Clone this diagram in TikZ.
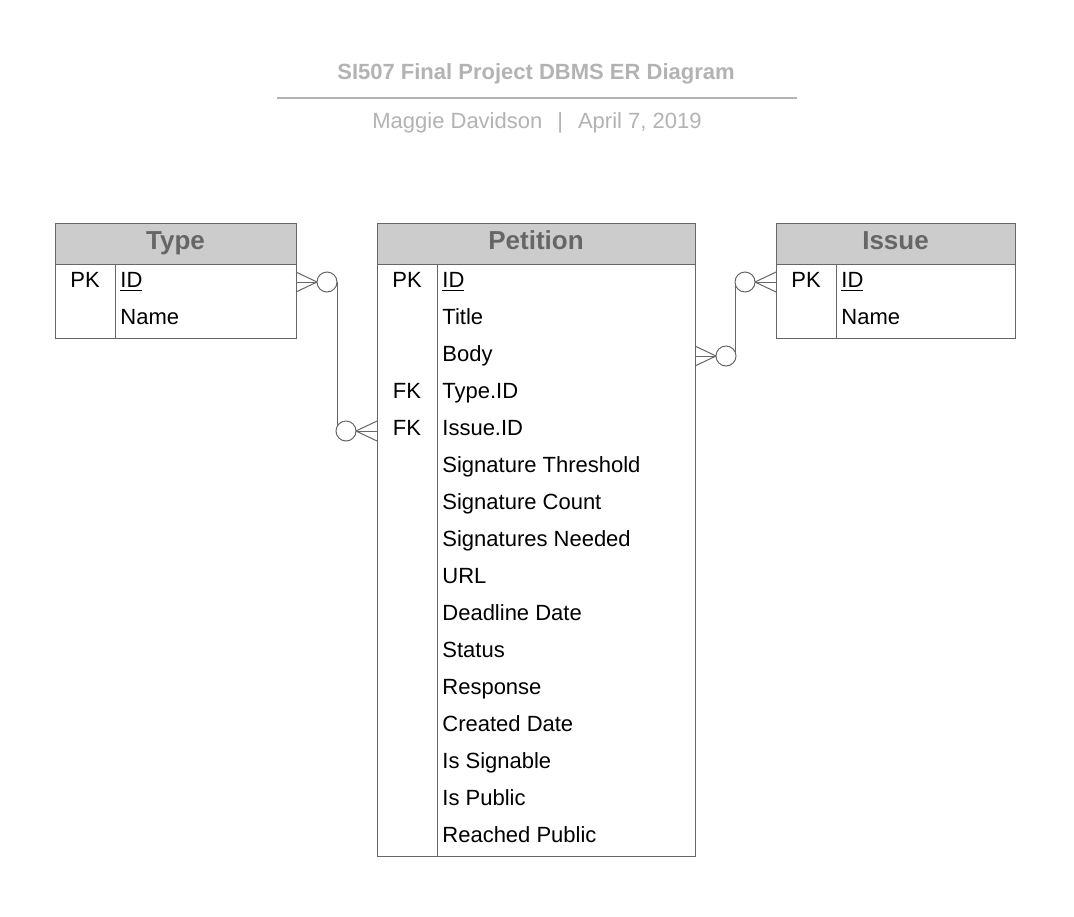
\documentclass[tikz,border=0pt]{standalone}
\usepackage{fontspec}
\setmainfont{Liberation Sans}
\usetikzlibrary{calc}

\definecolor{hdrfill}{HTML}{CCCCCC}
\definecolor{hdrtext}{HTML}{666666}
\definecolor{linegray}{HTML}{666666}
\definecolor{titlegray}{HTML}{B3B3B3}

\tikzset{
    tablebox/.style={draw=linegray, line width=0.5pt},
    hdrtitle/.style={font=\fontsize{13}{15}\selectfont\bfseries, text=hdrtext, anchor=base, inner sep=0pt},
    keytext/.style={font=\fontsize{11}{13}\selectfont, anchor=base, inner sep=0pt},
    attrtext/.style={font=\fontsize{11}{13}\selectfont, anchor=base west, inner sep=0pt},
    rel/.style={draw=linegray, line width=0.5pt},
}

% crow's foot (many) with circle (zero) at an edge point, #2 = +1 right / -1 left
\newcommand{\manyzero}[2]{%
    \draw[rel] ($(#1)+(0,-10)$) -- ($(#1)+(#2*21,0)$) -- ($(#1)+(0,10)$);
    \draw[rel] (#1) -- ($(#1)+(#2*21,0)$);
    \draw[rel, fill=white] ($(#1)+(#2*31,0)$) circle[radius=5pt];
}

\begin{document}
\begin{tikzpicture}[x=0.5pt, y=-0.5pt]
    \useasboundingbox[fill=white] (0,0) rectangle (1074,916);
    \def\rowh{37}
    \def\rowy{287.5}

    % Title block
    \node[font=\fontsize{11}{13}\selectfont\bfseries, text=titlegray, anchor=base, inner sep=0pt] (title) at (536,79) {SI507 Final Project DBMS ER Diagram};
    \draw[titlegray, line width=1pt] (277,98) -- (797,98);
    \node[font=\fontsize{11}{13}\selectfont, text=titlegray, anchor=base, inner sep=0pt] (byline) at (537,128) {Maggie Davidson\hspace{7.5pt}|\hspace{7.5pt}April 7, 2019};

    % Type table
    \fill[hdrfill] (55,223) rectangle (296,264);
    \draw[tablebox] (55,223) rectangle (296,338);
    \draw[tablebox] (55,264) -- (296,264);
    \draw[tablebox] (115,264) -- (115,338);
    \node[hdrtitle] (type) at (175.5,249) {Type};
    \node[keytext] (type-pk) at (85,\rowy) {PK};
    \node[attrtext] (type-id) at (120,\rowy) {\underline{ID}};
    \node[attrtext] (type-name) at (120,\rowy+\rowh) {Name};

    % Issue table
    \fill[hdrfill] (776,223) rectangle (1015,264);
    \draw[tablebox] (776,223) rectangle (1015,338);
    \draw[tablebox] (776,264) -- (1015,264);
    \draw[tablebox] (836,264) -- (836,338);
    \node[hdrtitle] (issue) at (895.5,249) {Issue};
    \node[keytext] (issue-pk) at (806,\rowy) {PK};
    \node[attrtext] (issue-id) at (841,\rowy) {\underline{ID}};
    \node[attrtext] (issue-name) at (841,\rowy+\rowh) {Name};

    % Petition table
    \fill[hdrfill] (377,223) rectangle (695,264);
    \draw[tablebox] (377,223) rectangle (695,856);
    \draw[tablebox] (377,264) -- (695,264);
    \draw[tablebox] (437,264) -- (437,856);
    \node[hdrtitle] (petition) at (536,249) {Petition};
    \foreach \k/\i in {PK/0, FK/3, FK/4} {
        \node[keytext] (pet-key-\i) at (407,\rowy+\rowh*\i) {\k};
    }
    \foreach \a [count=\i from 0] in {\underline{ID}, Title, Body, Type.ID, Issue.ID,
        Signature Threshold, Signature Count, Signatures Needed, URL, Deadline Date,
        Status, Response, Created Date, Is Signable, Is Public, Reached Public} {
        \node[attrtext] (pet-attr-\i) at (442,\rowy+\rowh*\i) {\a};
    }

    % Relationship end points
    \coordinate (type-end) at (296,282);
    \coordinate (pet-type-end) at (377,431);
    \coordinate (issue-end) at (776,282);
    \coordinate (pet-issue-end) at (695,356);

    % Type -- Petition
    \draw[rel] (type-end) -- ++(41,0) |- (pet-type-end);
    \manyzero{type-end}{1}
    \manyzero{pet-type-end}{-1}

    % Issue -- Petition
    \draw[rel] (issue-end) -- ++(-41,0) |- (pet-issue-end);
    \manyzero{issue-end}{-1}
    \manyzero{pet-issue-end}{1}
\end{tikzpicture}
\end{document}
